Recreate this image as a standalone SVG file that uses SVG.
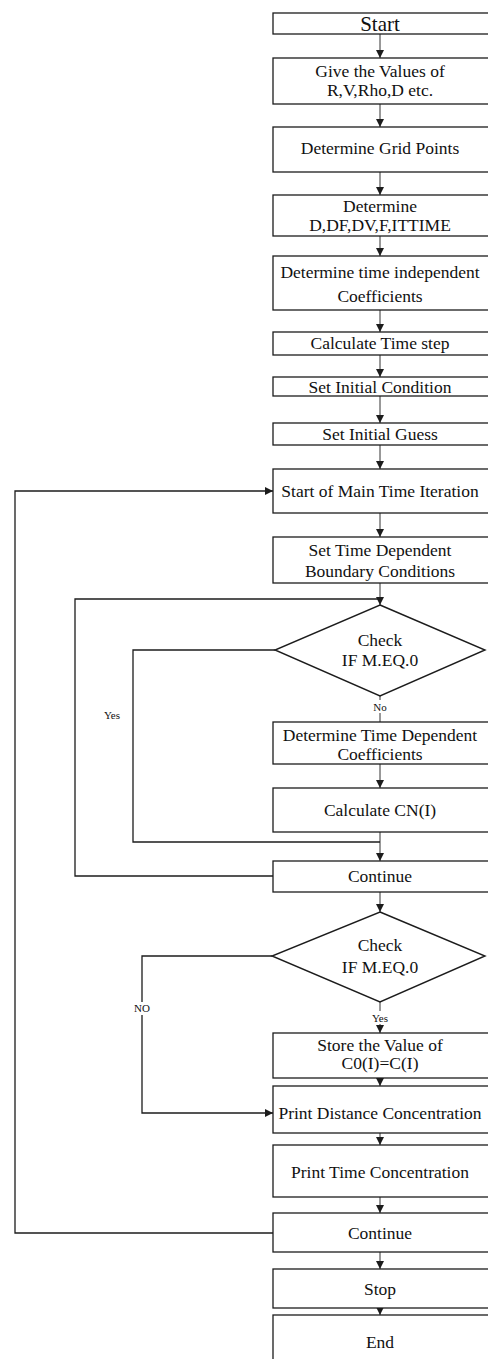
<svg xmlns="http://www.w3.org/2000/svg" width="488" height="1359" viewBox="0 0 488 1359">
  <defs>
    <style>
      .box { fill: #ffffff; stroke: #1c1c1c; stroke-width: 1.3; }
      .dia { fill: #ffffff; stroke: #1c1c1c; stroke-width: 1.4; }
      .lbl { font-family: "Liberation Serif", "Times New Roman", serif; font-size: 17.5px; fill: #111; text-anchor: middle; }
      .big { font-size: 21px; }
      .sm { font-family: "Liberation Serif", "Times New Roman", serif; font-size: 11px; fill: #111; text-anchor: middle; }
      .flow { fill: none; stroke: #333; stroke-width: 1; }
      .loop { fill: none; stroke: #1c1c1c; stroke-width: 1.3; }
    </style>
    <marker id="ah" viewBox="0 0 8 8" refX="8" refY="4" markerWidth="8" markerHeight="8" markerUnits="userSpaceOnUse" orient="auto">
      <path d="M0,0 L8,4 L0,8 Z" fill="#1c1c1c"/>
    </marker>
  </defs>
  <rect width="488" height="1359" fill="#ffffff"/>

  <!-- connectors -->
  <g id="connectors">
    <line class="flow" x1="380" y1="34" x2="380" y2="58" marker-end="url(#ah)"/>
    <line class="flow" x1="380" y1="104" x2="380" y2="127" marker-end="url(#ah)"/>
    <line class="flow" x1="380" y1="172" x2="380" y2="195" marker-end="url(#ah)"/>
    <line class="flow" x1="380" y1="236" x2="380" y2="256" marker-end="url(#ah)"/>
    <line class="flow" x1="380" y1="310" x2="380" y2="332" marker-end="url(#ah)"/>
    <line class="flow" x1="380" y1="355" x2="380" y2="377" marker-end="url(#ah)"/>
    <line class="flow" x1="380" y1="396" x2="380" y2="423" marker-end="url(#ah)"/>
    <line class="flow" x1="380" y1="445" x2="380" y2="469" marker-end="url(#ah)"/>
    <line class="flow" x1="380" y1="513" x2="380" y2="537" marker-end="url(#ah)"/>
    <line class="flow" x1="380" y1="583" x2="380" y2="605" marker-end="url(#ah)"/>
    <line class="flow" x1="380" y1="696" x2="380" y2="722"/>
    <line class="flow" x1="380" y1="764" x2="380" y2="788" marker-end="url(#ah)"/>
    <line class="flow" x1="380" y1="832" x2="380" y2="861" marker-end="url(#ah)"/>
    <line class="flow" x1="380" y1="892" x2="380" y2="912" marker-end="url(#ah)"/>
    <line class="flow" x1="380" y1="1002" x2="380" y2="1033" marker-end="url(#ah)"/>
    <line class="flow" x1="380" y1="1078" x2="380" y2="1086" marker-end="url(#ah)"/>
    <line class="flow" x1="380" y1="1133" x2="380" y2="1145" marker-end="url(#ah)"/>
    <line class="flow" x1="380" y1="1197" x2="380" y2="1213" marker-end="url(#ah)"/>
    <line class="flow" x1="380" y1="1252" x2="380" y2="1269" marker-end="url(#ah)"/>
    <line class="flow" x1="380" y1="1308" x2="380" y2="1315" marker-end="url(#ah)"/>

    <!-- inner "Yes" loop back to Continue -->
    <polyline class="loop" points="275,650 133,650 133,842 380,842"/>
    <!-- Continue back to the check -->
    <polyline class="loop" points="273,876 75,876 75,599 380,599"/>
    <!-- "NO" branch to Print Distance Concentration -->
    <polyline class="loop" points="272,956 142,956 142,1113 273,1113" marker-end="url(#ah)"/>
    <!-- main time loop -->
    <polyline class="loop" points="273,1233 15,1233 15,491 273,491" marker-end="url(#ah)"/>

    <rect x="369" y="700" width="22" height="13" fill="#ffffff"/>
    <text class="sm" x="380" y="711">No</text>
    <text class="sm" x="112" y="719">Yes</text>
    <rect x="368" y="1011" width="24" height="13" fill="#ffffff"/>
    <text class="sm" x="380" y="1022">Yes</text>
    <rect x="130" y="1002" width="24" height="13" fill="#ffffff"/>
    <text class="sm" x="142" y="1012">NO</text>
  </g>

  <g id="start">
    <rect class="box" x="273" y="13" width="222" height="21"/>
    <text class="lbl big" x="380" y="31">Start</text>
  </g>
  <g id="give-values">
    <rect class="box" x="273" y="58" width="222" height="46"/>
    <text class="lbl" x="380" y="77">Give the Values of</text>
    <text class="lbl" x="380" y="96">R,V,Rho,D etc.</text>
  </g>
  <g id="grid-points">
    <rect class="box" x="273" y="127" width="222" height="45"/>
    <text class="lbl" x="380" y="154">Determine Grid Points</text>
  </g>
  <g id="determine-d">
    <rect class="box" x="273" y="195" width="222" height="41"/>
    <text class="lbl" x="380" y="212">Determine</text>
    <text class="lbl" x="380" y="231">D,DF,DV,F,ITTIME</text>
  </g>
  <g id="time-independent">
    <rect class="box" x="273" y="256" width="222" height="54"/>
    <text class="lbl" x="380" y="278">Determine time independent</text>
    <text class="lbl" x="380" y="302">Coefficients</text>
  </g>
  <g id="time-step">
    <rect class="box" x="273" y="332" width="222" height="23"/>
    <text class="lbl" x="380" y="349">Calculate Time step</text>
  </g>
  <g id="initial-condition">
    <rect class="box" x="273" y="377" width="222" height="19"/>
    <text class="lbl" x="380" y="393">Set Initial Condition</text>
  </g>
  <g id="initial-guess">
    <rect class="box" x="273" y="423" width="222" height="22"/>
    <text class="lbl" x="380" y="440">Set Initial Guess</text>
  </g>
  <g id="main-iteration">
    <rect class="box" x="273" y="469" width="222" height="44"/>
    <text class="lbl" x="380" y="497">Start of Main Time Iteration</text>
  </g>
  <g id="boundary">
    <rect class="box" x="273" y="537" width="222" height="46"/>
    <text class="lbl" x="380" y="556">Set Time Dependent</text>
    <text class="lbl" x="380" y="577">Boundary Conditions</text>
  </g>
  <g id="check-1">
    <polygon class="dia" points="380,605 485,650 380,696 275,650"/>
    <text class="lbl" x="380" y="646">Check</text>
    <text class="lbl" x="380" y="666">IF M.EQ.0</text>
  </g>
  <g id="time-dependent">
    <rect class="box" x="273" y="722" width="222" height="42"/>
    <text class="lbl" x="380" y="741">Determine Time Dependent</text>
    <text class="lbl" x="380" y="760">Coefficients</text>
  </g>
  <g id="calc-cn">
    <rect class="box" x="273" y="788" width="222" height="44"/>
    <text class="lbl" x="380" y="816">Calculate CN(I)</text>
  </g>
  <g id="continue-1">
    <rect class="box" x="273" y="861" width="222" height="31"/>
    <text class="lbl" x="380" y="882">Continue</text>
  </g>
  <g id="check-2">
    <polygon class="dia" points="380,912 485,956 380,1002 272,956"/>
    <text class="lbl" x="380" y="951">Check</text>
    <text class="lbl" x="380" y="973">IF M.EQ.0</text>
  </g>
  <g id="store">
    <rect class="box" x="273" y="1033" width="222" height="45"/>
    <text class="lbl" x="380" y="1051">Store the Value of</text>
    <text class="lbl" x="380" y="1069">C0(I)=C(I)</text>
  </g>
  <g id="print-distance">
    <rect class="box" x="273" y="1086" width="222" height="47"/>
    <text class="lbl" x="380" y="1119">Print Distance Concentration</text>
  </g>
  <g id="print-time">
    <rect class="box" x="273" y="1145" width="222" height="52"/>
    <text class="lbl" x="380" y="1178">Print Time Concentration</text>
  </g>
  <g id="continue-2">
    <rect class="box" x="273" y="1213" width="222" height="39"/>
    <text class="lbl" x="380" y="1239">Continue</text>
  </g>
  <g id="stop">
    <rect class="box" x="273" y="1269" width="222" height="39"/>
    <text class="lbl" x="380" y="1295">Stop</text>
  </g>
  <g id="end">
    <rect class="box" x="273" y="1315" width="222" height="60"/>
    <text class="lbl" x="380" y="1348">End</text>
  </g>
</svg>
